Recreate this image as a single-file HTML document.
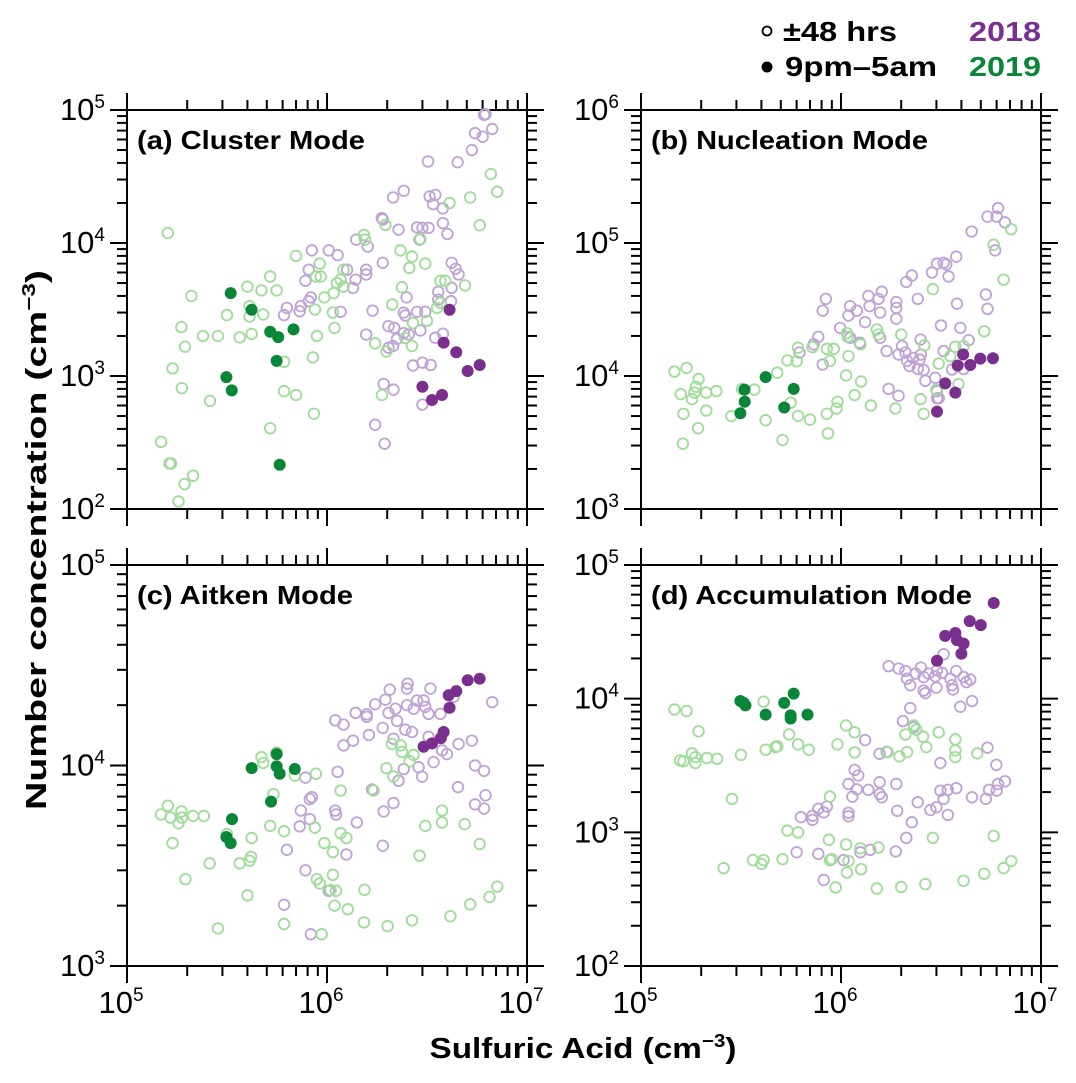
<!DOCTYPE html>
<html><head><meta charset="utf-8"><style>
html,body{margin:0;padding:0;background:#fff;}
svg{display:block;font-family:"Liberation Sans",Arial,sans-serif;}
</style></head><body>
<svg id="chart" width="1076" height="1083" viewBox="0 0 1076 1083" xmlns="http://www.w3.org/2000/svg">
<g id="legend">
<circle cx="767" cy="31" r="4.5" fill="none" stroke="#000" stroke-width="1.8"/>
<text x="783" y="41" font-size="28" font-weight="bold" textLength="114" lengthAdjust="spacingAndGlyphs">±48 hrs</text>
<circle cx="767" cy="67" r="5.5" fill="#000"/>
<text x="785" y="76" font-size="28" font-weight="bold" textLength="152" lengthAdjust="spacingAndGlyphs">9pm–5am</text>
<text x="969" y="41" font-size="28" font-weight="bold" fill="#7a2e8e" textLength="72" lengthAdjust="spacingAndGlyphs">2018</text>
<text x="969" y="76" font-size="28" font-weight="bold" fill="#0a8638" textLength="72" lengthAdjust="spacingAndGlyphs">2019</text>
</g>
<text transform="translate(46,540) rotate(-90)" font-size="29" font-weight="bold" text-anchor="middle" textLength="540" lengthAdjust="spacingAndGlyphs">Number concentration (cm<tspan dy="-11" font-size="18">−3</tspan><tspan dy="11">)</tspan></text>
<text x="583" y="1058" font-size="29" font-weight="bold" text-anchor="middle" textLength="307" lengthAdjust="spacingAndGlyphs">Sulfuric Acid (cm<tspan dy="-11" font-size="18">−3</tspan><tspan dy="11">)</tspan></text>
</svg>
<script>
// ---- shared x axis ----
const xDecades = [5, 6, 7];
// ---- panel (a) Cluster Mode ----
const aYDecades = [2, 3, 4, 5];
const aPurpleOpenX = [6.2e6,6.1e6,5.5e6,6.0e6,6.7e6,5.3e6,4.5e6,3.2e6,2.42e6,2.14e6,3.26e6,3.48e6,3.39e6,3.79e6,1.88e6,1.9e6,2.28e6,2.82e6,3.0e6,3.22e6,3.8e6,4.0e6,2.9e6,1.6e6,1.4e6,1.02e6,8.4e5,1.13e6,1.26e6,1.57e6,1.57e6,1.9e6,1.39e6,1.35e6,7.8e5,8.1e5,8.3e5,8.1e5,7.4e5,7.3e5,6.3e5,6.1e5,1.17e6,1.69e6,4.2e6,4.4e6,4.55e6,4.2e6,3.6e6,3.6e6,4.17e6,2.5e6,2.42e6,2.46e6,2.82e6,3.1e6,2.93e6,2.03e6,2.17e6,2.42e6,2.56e6,2.24e6,2.14e6,2.03e6,1.57e6,3.48e6,3.8e6,2.69e6,3.0e6,3.3e6,1.92e6,2.15e6,3.0e6,1.74e6,1.94e6];
const aPurpleOpenY = [9.3e4,9.2e4,6.7e4,6.3e4,7.2e4,5.0e4,4.05e4,4.1e4,2.47e4,2.2e4,2.24e4,2.3e4,1.96e4,1.82e4,1.54e4,1.5e4,1.26e4,1.31e4,1.3e4,1.3e4,1.41e4,1.17e4,1.06e4,9.4e3,1.06e4,8.8e3,8.8e3,8.1e3,6.3e3,6.3e3,5.8e3,7.1e3,5.3e3,4.6e3,5.2e3,6.3e3,3.9e3,3.65e3,3.35e3,3.07e3,3.25e3,2.87e3,3.04e3,3.1e3,7.1e3,6.4e3,5.8e3,4.6e3,4.3e3,3.75e3,3.65e3,3.9e3,3.0e3,2.85e3,3.04e3,3.04e3,2.2e3,2.37e3,2.3e3,2.1e3,2.05e3,1.9e3,1.68e3,1.63e3,2.05e3,1.94e3,2.08e3,1.2e3,1.26e3,1.21e3,8.7e2,7.9e2,6.1e2,4.3e2,3.1e2];
const aGreenOpenX = [1.6e5,2.1e5,1.87e5,1.95e5,1.69e5,1.88e5,2.6e5,1.48e5,1.63e5,1.66e5,2.14e5,1.94e5,1.81e5,2.4e5,2.85e5,3.66e5,4.2e5,3.16e5,4.0e5,4.7e5,5.2e5,5.6e5,4.1e5,4.1e5,4.8e5,7.0e5,9.2e5,8.8e5,9.3e5,6.1e5,6.1e5,7.0e5,5.2e5,8.6e5,8.5e5,8.9e5,8.7e5,9.7e5,1.07e6,1.09e6,1.08e6,1.12e6,1.17e6,1.21e6,1.53e6,1.55e6,1.96e6,2.33e6,2.66e6,2.58e6,3.1e6,2.37e6,2.12e6,2.69e6,3.16e6,2.46e6,2.66e6,1.74e6,1.98e6,1.88e6,3.55e6,3.69e6,3.69e6,3.9e6,4.1e6,5.2e6,6.6e6,7.1e6,5.8e6,4.9e6,2.93e6,1.21e6];
const aGreenOpenY = [1.19e4,4.0e3,2.33e3,1.66e3,1.14e3,8.1e2,6.5e2,3.2e2,2.2e2,2.2e2,1.78e2,1.54e2,1.14e2,2.0e3,2.0e3,1.95e3,2.07e3,2.87e3,4.7e3,4.4e3,5.6e3,4.4e3,3.35e3,2.8e3,2.9e3,8.0e3,7.0e3,5.6e3,5.6e3,1.28e3,7.7e2,7.2e2,4.05e2,5.2e2,1.38e3,2.0e3,3.16e3,3.9e3,3.0e3,2.3e3,4.2e3,5.0e3,5.3e3,4.7e3,1.15e4,1.06e4,1.37e4,8.8e3,7.9e3,6.5e3,7.0e3,4.65e3,3.45e3,2.5e3,2.6e3,1.93e3,1.68e3,1.76e3,1.53e3,7.2e2,3.25e3,3.55e3,5.2e3,5.2e3,2.0e4,2.2e4,3.3e4,2.43e4,1.36e4,4.8e3,1.07e4,6.3e3];
const aPurpleFilledX = [4.1e6,3.83e6,4.43e6,5.05e6,5.8e6,3.0e6,3.35e6,3.76e6];
const aPurpleFilledY = [3.15e3,1.78e3,1.51e3,1.09e3,1.21e3,8.3e2,6.6e2,7.2e2];
const aGreenFilledX = [3.3e5,4.2e5,5.2e5,5.7e5,6.8e5,5.6e5,3.14e5,3.34e5,5.8e5];
const aGreenFilledY = [4.2e3,3.15e3,2.15e3,1.96e3,2.24e3,1.3e3,9.8e2,7.8e2,2.15e2];
// ---- panel (b) Nucleation Mode ----
const bYDecades = [3, 4, 5, 6];
const bPurpleOpenX = [6.1e6,5.4e6,6.0e6,6.6e6,4.5e6,5.9e6,3.77e6,3.26e6,3.02e6,3.36e6,2.85e6,3.45e6,2.26e6,2.12e6,2.42e6,1.6e6,1.37e6,1.54e6,1.89e6,1.89e6,1.39e6,1.57e6,1.11e6,1.2e6,1.09e6,8.4e5,8.1e5,1.32e6,1.89e6,9.9e5,1.11e6,1.24e6,1.57e6,7.7e5,7.3e5,8.1e5,6.2e5,1.69e6,2.02e6,2.1e6,1.94e6,2.14e6,2.29e6,2.47e6,2.51e6,2.5e6,2.2e6,2.42e6,2.59e6,2.64e6,3.26e6,3.16e6,3.95e6,3.8e6,5.3e6,5.4e6,4.35e6,4.1e6,3.59e6,2.96e6,3.02e6,3.08e6,1.73e6,1.94e6,3.02e6];
const bPurpleOpenY = [1.83e5,1.58e5,1.58e5,1.43e5,1.22e5,8.8e4,7.9e4,7.1e4,7.0e4,6.9e4,6.0e4,5.6e4,5.7e4,5.1e4,3.8e4,4.3e4,4.0e4,3.8e4,3.6e4,3.25e4,3.35e4,3.0e4,3.35e4,3.1e4,2.85e4,3.8e4,3.1e4,2.54e4,2.7e4,2.3e4,1.94e4,1.78e4,1.94e4,1.97e4,1.73e4,1.22e4,1.5e4,1.54e4,1.68e4,1.5e4,1.45e4,1.3e4,1.37e4,1.33e4,1.45e4,1.88e4,1.19e4,1.13e4,1.11e4,9.2e3,1.54e4,2.4e4,2.3e4,3.5e4,4.1e4,3.2e4,1.86e4,1.13e4,1.12e4,9.7e3,7.7e3,6.8e3,8.0e3,7.1e3,6.8e3];
const bGreenOpenX = [1.47e5,1.69e5,1.94e5,1.58e5,1.8e5,1.85e5,1.88e5,2.12e5,2.38e5,1.63e5,2.12e5,1.93e5,1.62e5,2.83e5,3.2e5,3.69e5,4.2e5,4.8e5,5.4e5,6.0e5,6.1e5,5.6e5,6.1e5,5.1e5,7.0e5,7.2e5,8.5e5,9.2e5,8.8e5,8.5e5,8.6e5,9.6e5,9.5e5,1.06e6,1.09e6,1.07e6,1.08e6,1.25e6,1.26e6,1.17e6,1.41e6,1.51e6,1.54e6,2.0e6,1.87e6,2.5e6,2.59e6,2.61e6,2.88e6,3.08e6,3.73e6,3.87e6,4.1e6,5.2e6,5.8e6,6.5e6,7.1e6,3.52e6,3.0e6];
const bGreenOpenY = [1.08e4,1.15e4,9.5e3,7.3e3,6.7e3,7.5e3,8.3e3,7.5e3,7.7e3,5.2e3,5.5e3,4.05e3,3.1e3,5.0e3,8.0e3,7.9e3,4.65e3,1.06e4,1.31e4,1.29e4,1.63e4,6.3e3,5.0e3,3.3e3,4.7e3,1.65e4,1.6e4,1.6e4,1.3e4,5.2e3,3.7e3,6.4e3,5.7e3,1.01e4,1.41e4,2.1e4,1.97e4,1.73e4,9.1e3,7.2e3,6.0e3,2.24e4,2.05e4,2.05e4,5.7e3,6.7e3,5.2e3,1.7e4,4.5e4,1.24e4,1.66e4,8.7e3,1.68e4,2.17e4,9.7e4,5.3e4,1.27e5,1.41e4,7.9e3];
const bPurpleFilledX = [3.02e6,3.32e6,3.73e6,3.83e6,4.08e6,4.43e6,4.97e6,5.75e6];
const bPurpleFilledY = [5.4e3,8.8e3,7.5e3,1.2e4,1.45e4,1.21e4,1.35e4,1.36e4];
const bGreenFilledX = [3.29e5,3.3e5,3.14e5,4.2e5,5.8e5,5.2e5];
const bGreenFilledY = [7.9e3,6.4e3,5.25e3,9.8e3,8.0e3,5.8e3];
// ---- panel (c) Aitken Mode ----
const cYDecades = [3, 4, 5];
const cPurpleOpenX = [2.53e6,2.51e6,2.06e6,3.29e6,1.96e6,1.74e6,1.39e6,1.58e6,1.58e6,2.03e6,2.2e6,2.51e6,2.82e6,3.04e6,3.1e6,2.71e6,3.22e6,3.69e6,6.7e6,4.3e6,1.1e6,1.21e6,1.9e6,2.24e6,2.46e6,2.66e6,3.22e6,1.62e6,1.35e6,1.21e6,2.15e6,4.55e6,5.3e6,3.76e6,3.98e6,3.41e6,5.5e6,6.1e6,2.42e6,2.87e6,2.99e6,2.28e6,1.13e6,7.8e5,4.52e6,6.2e6,5.5e6,6.1e6,1.68e6,2.15e6,1.92e6,8.4e5,8.2e5,7.4e5,1.1e6,1.11e6,8.2e5,7.3e5,1.41e6,1.9e6,1.25e6,6.3e5,7.8e5,1.02e6,6.1e5,8.3e5];
const cPurpleOpenY = [2.56e4,2.42e4,2.39e4,2.42e4,2.13e4,2.02e4,1.83e4,1.8e4,1.75e4,1.83e4,1.92e4,2.0e4,2.11e4,2.11e4,1.96e4,1.92e4,1.81e4,1.81e4,2.07e4,2.2e4,1.68e4,1.6e4,1.54e4,1.67e4,1.51e4,1.47e4,1.39e4,1.42e4,1.33e4,1.26e4,1.36e4,1.28e4,1.33e4,1.19e4,1.14e4,1.04e4,1.0e4,9.4e3,9.6e3,9.8e3,8.8e3,8.4e3,9.3e3,8.7e3,7.8e3,7.1e3,6.4e3,6.1e3,7.6e3,6.5e3,5.9e3,6.95e3,6.8e3,5.96e3,5.96e3,5.7e3,5.4e3,4.97e3,5.2e3,3.98e3,3.6e3,3.8e3,3.0e3,2.37e3,2.02e3,1.44e3];
const cGreenOpenX = [1.6e5,1.48e5,1.65e5,1.81e5,1.87e5,1.88e5,2.14e5,2.42e5,1.69e5,1.96e5,2.59e5,2.85e5,3.16e5,3.66e5,4.1e5,4.17e5,4.2e5,4.0e5,4.7e5,4.8e5,5.6e5,5.4e5,5.2e5,6.1e5,6.1e5,6.9e5,8.8e5,8.7e5,8.9e5,9.2e5,9.4e5,9.7e5,1.07e6,1.07e6,1.04e6,1.11e6,1.09e6,1.17e6,1.17e6,1.25e6,1.27e6,1.54e6,1.53e6,1.71e6,1.98e6,2.11e6,2.15e6,2.34e6,2.37e6,2.59e6,2.71e6,2.01e6,2.66e6,2.9e6,3.1e6,3.76e6,3.76e6,4.14e6,4.88e6,5.2e6,5.8e6,6.5e6,7.1e6];
const cGreenOpenY = [6.3e3,5.7e3,5.5e3,5.15e3,5.9e3,5.5e3,5.6e3,5.6e3,4.1e3,2.71e3,3.25e3,1.54e3,4.55e3,3.25e3,3.35e3,3.5e3,4.35e3,2.25e3,1.1e4,1.03e4,1.16e4,7.2e3,5.0e3,4.7e3,1.62e3,8.9e3,9.1e3,4.9e3,2.71e3,2.58e3,1.44e3,4.1e3,3.7e3,2.85e3,2.39e3,2.37e3,2.0e3,7.5e3,4.6e3,4.35e3,1.92e3,2.4e3,1.65e3,7.5e3,9.7e3,1.28e4,8.8e3,1.26e4,1.17e4,1.05e4,1.13e4,1.58e3,1.69e3,3.55e3,5.0e3,5.96e3,5.2e3,1.77e3,5.1e3,2.03e3,4.06e3,2.21e3,2.49e3];
const cPurpleFilledX = [5.05e6,5.8e6,4.43e6,4.06e6,4.1e6,3.83e6,3.71e6,3.35e6,3.04e6];
const cPurpleFilledY = [2.66e4,2.71e4,2.35e4,2.24e4,1.94e4,1.47e4,1.37e4,1.29e4,1.24e4];
const cGreenFilledX = [5.6e5,4.2e5,5.6e5,5.8e5,6.9e5,5.25e5,3.35e5,3.14e5,3.3e5];
const cGreenFilledY = [1.14e4,9.7e3,9.9e3,9.1e3,9.6e3,6.6e3,5.4e3,4.4e3,4.1e3];
// ---- panel (d) Accumulation Mode ----
const dYDecades = [2, 3, 4, 5];
const dPurpleOpenX = [3.26e6,1.73e6,1.94e6,2.1e6,2.14e6,2.36e6,2.51e6,2.59e6,2.74e6,2.96e6,3.02e6,3.2e6,3.77e6,3.52e6,4.1e6,4.43e6,4.23e6,2.22e6,3.59e6,3.0e6,2.64e6,2.59e6,3.63e6,4.52e6,3.95e6,2.22e6,2.04e6,2.31e6,1.32e6,1.56e6,1.69e6,3.14e6,5.4e6,5.98e6,1.17e6,1.22e6,1.09e6,1.2e6,1.37e6,1.56e6,1.56e6,1.6e6,1.89e6,1.14e6,3.14e6,3.42e6,3.77e6,3.26e6,4.52e6,5.3e6,5.5e6,6.0e6,6.1e6,6.6e6,2.42e6,1.91e6,2.8e6,3.0e6,3.42e6,2.26e6,2.12e6,1.09e6,1.09e6,6.3e5,7.2e5,7.2e5,7.7e5,8.2e5,8.5e5,6.0e5,7.7e5,1.25e6,1.4e6,1.88e6,1.03e6,8.2e5];
const dPurpleOpenY = [2.15e4,1.75e4,1.68e4,1.61e4,1.41e4,1.54e4,1.71e4,1.45e4,1.54e4,1.47e4,1.63e4,1.56e4,1.61e4,1.41e4,1.45e4,1.39e4,1.33e4,1.26e4,1.26e4,1.21e4,1.1e4,1.15e4,1.17e4,9.6e3,8.7e3,8.5e3,6.8e3,6.1e3,4.9e3,3.87e3,4.0e3,3.3e3,4.3e3,3.2e3,2.93e3,2.66e3,2.3e3,2.1e3,2.08e3,2.37e3,1.94e3,1.83e3,2.3e3,1.85e3,2.05e3,2.08e3,2.14e3,1.78e3,1.83e3,1.78e3,2.08e3,2.05e3,2.3e3,2.41e3,1.68e3,1.45e3,1.47e3,1.54e3,1.35e3,1.19e3,9.1e2,1.4e3,1.32e3,1.3e3,1.33e3,1.24e3,1.5e3,1.41e3,1.56e3,7.1e2,6.9e2,7.1e2,7.4e2,7.2e2,6.2e2,4.4e2];
const dGreenOpenX = [1.47e5,1.69e5,1.94e5,1.57e5,1.63e5,1.8e5,1.87e5,1.87e5,2.14e5,2.4e5,2.85e5,2.59e5,3.16e5,4.1e5,4.2e5,4.7e5,4.8e5,5.5e5,6.1e5,6.9e5,3.63e5,4.0e5,4.1e5,5.1e5,5.4e5,6.1e5,8.8e5,8.7e5,8.8e5,9.0e5,9.4e5,9.6e5,1.06e6,1.17e6,1.17e6,1.06e6,1.09e6,1.07e6,1.26e6,1.25e6,1.54e6,1.51e6,1.71e6,1.96e6,2.14e6,2.1e6,2.31e6,2.38e6,2.57e6,2.67e6,3.08e6,3.73e6,3.73e6,3.73e6,4.8e6,2.0e6,2.64e6,2.88e6,4.1e6,5.2e6,5.8e6,6.5e6,7.1e6];
const dGreenOpenY = [8.3e3,8.1e3,5.7e3,3.45e3,3.4e3,3.9e3,3.65e3,3.3e3,3.6e3,3.55e3,1.78e3,5.4e2,3.8e3,9.5e3,4.15e3,4.34e3,4.4e3,5.4e3,4.55e3,4.15e3,6.2e2,5.8e2,6.2e2,6.3e2,1.03e3,1.0e3,1.85e3,8.8e2,6.2e2,6.3e2,3.87e2,4.55e3,6.3e3,5.6e3,3.96e3,8.1e2,6.1e2,5.0e2,5.3e2,7.6e2,7.7e2,3.8e2,3.98e3,3.7e3,3.98e3,5.4e3,6.3e3,5.86e3,5.2e3,4.34e3,5.6e3,4.96e3,4.1e3,3.65e3,3.9e3,3.9e2,4.1e2,9.1e2,4.34e2,4.9e2,9.4e2,5.4e2,6.1e2];
const dPurpleFilledX = [5.8e6,4.4e6,5.0e6,3.32e6,3.73e6,3.8e6,4.1e6,4.0e6,3.02e6];
const dPurpleFilledY = [5.2e4,3.8e4,3.55e4,2.95e4,3.1e4,2.74e4,2.58e4,2.17e4,1.92e4];
const dGreenFilledX = [3.14e5,3.26e5,3.33e5,4.2e5,5.2e5,5.8e5,5.6e5,5.6e5,6.8e5];
const dGreenFilledY = [9.6e3,9.3e3,8.9e3,7.6e3,9.3e3,1.09e4,7.5e3,7.1e3,7.6e3];

const NS = 'http://www.w3.org/2000/svg';
const svg = document.getElementById('chart');
const C = {po:'#bfa2d6', go:'#9edc98', pf:'#7a2e8e', gf:'#0a8638'};

function mk(tag, attrs, parent) {
  const e = document.createElementNS(NS, tag);
  for (const k in attrs) e.setAttribute(k, attrs[k]);
  parent.appendChild(e);
  return e;
}

function panel(key, title, titleLen, x0, y0, w, h, yDec, showX, series) {
  const g = mk('g', {}, svg);
  
  
  const lx0 = xDecades[0], lx1 = xDecades[xDecades.length - 1];
  const ly0 = yDec[0], ly1 = yDec[yDec.length - 1];
  const sx = v => x0 + (Math.log10(v) - lx0) / (lx1 - lx0) * w;
  const sy = v => y0 + h - (Math.log10(v) - ly0) / (ly1 - ly0) * h;
  const ov = 16;
  const lines = [[x0 - ov, y0, x0 + w + ov, y0], [x0 - ov, y0 + h, x0 + w + ov, y0 + h], [x0, y0 - ov, x0, y0 + h + ov], [x0 + w, y0 - ov, x0 + w, y0 + h + ov]];
  lines.forEach(l => {
    const e = mk('line', {x1: l[0], y1: l[1], x2: l[2], y2: l[3], stroke: '#000', 'stroke-width': 2}, g);
    
    
  });
  for (let d = lx0; d <= lx1; d++) {
    for (let m = 1; m <= 9; m++) {
      if (d === lx1 && m > 1) break;
      const px = sx(m * Math.pow(10, d));
      const len = m === 1 ? 17 : 10;
      const t1 = mk('line', {x1: px, y1: y0 + h, x2: px, y2: y0 + h + len, stroke: '#000', 'stroke-width': 2}, g);
      
      
      const t2 = mk('line', {x1: px, y1: y0, x2: px, y2: y0 - len, stroke: '#000', 'stroke-width': 2}, g);
      
      
    }
    if (showX) {
      const t = mk('text', {x: sx(Math.pow(10, d)) - 6, y: y0 + h + 47, 'font-size': 31, 'text-anchor': 'middle'}, g);
      
      
      t.innerHTML = '10<tspan dy="-12" font-size="19">' + d + '</tspan>';
    }
  }
  for (let d = ly0; d <= ly1; d++) {
    for (let m = 1; m <= 9; m++) {
      if (d === ly1 && m > 1) break;
      const py = sy(m * Math.pow(10, d));
      const len = m === 1 ? 17 : 10;
      const t1 = mk('line', {x1: x0, y1: py, x2: x0 - len, y2: py, stroke: '#000', 'stroke-width': 2}, g);
      
      
      const t2 = mk('line', {x1: x0 + w, y1: py, x2: x0 + w + len, y2: py, stroke: '#000', 'stroke-width': 2}, g);
      
      
    }
    const t = mk('text', {x: x0 - 22, y: sy(Math.pow(10, d)) + 10, 'font-size': 31, 'text-anchor': 'end'}, g);
    
    
    t.innerHTML = '10<tspan dy="-12" font-size="19">' + d + '</tspan>';
  }
  const tt = mk('text', {x: x0 + 10, y: y0 + 39, 'font-size': 26, 'font-weight': 'bold', textLength: titleLen, lengthAdjust: 'spacingAndGlyphs'}, g);
  
  
  tt.textContent = title;
  series.forEach(s => {
    const sg = mk('g', {}, g);
    
    
    for (let i = 0; i < s.x.length; i++) {
      const a = s.filled ? {cx: sx(s.x[i]), cy: sy(s.y[i]), r: 6, fill: s.color}
                         : {cx: sx(s.x[i]), cy: sy(s.y[i]), r: 5.3, fill: 'none', stroke: s.color, 'stroke-width': 1.8};
      const c = mk('circle', a, sg);
      
      
    }
  });
}

function ser(px, py, gx, gy, pfx, pfy, gfx, gfy) {
  return [
    {name: 'series-2018-48hrs', x: px, y: py, color: C.po, filled: false},
    {name: 'series-2019-48hrs', x: gx, y: gy, color: C.go, filled: false},
    {name: 'series-2018-night', x: pfx, y: pfy, color: C.pf, filled: true},
    {name: 'series-2019-night', x: gfx, y: gfy, color: C.gf, filled: true}
  ];
}

panel('a', '(a) Cluster Mode', 228, 127, 110, 400, 399, aYDecades, false, ser(aPurpleOpenX, aPurpleOpenY, aGreenOpenX, aGreenOpenY, aPurpleFilledX, aPurpleFilledY, aGreenFilledX, aGreenFilledY));
panel('b', '(b) Nucleation Mode', 277, 641, 110, 400, 399, bYDecades, false, ser(bPurpleOpenX, bPurpleOpenY, bGreenOpenX, bGreenOpenY, bPurpleFilledX, bPurpleFilledY, bGreenFilledX, bGreenFilledY));
panel('c', '(c) Aitken Mode', 216, 127, 565, 400, 401, cYDecades, true, ser(cPurpleOpenX, cPurpleOpenY, cGreenOpenX, cGreenOpenY, cPurpleFilledX, cPurpleFilledY, cGreenFilledX, cGreenFilledY));
panel('d', '(d) Accumulation Mode', 321, 641, 565, 400, 401, dYDecades, true, ser(dPurpleOpenX, dPurpleOpenY, dGreenOpenX, dGreenOpenY, dPurpleFilledX, dPurpleFilledY, dGreenFilledX, dGreenFilledY));
</script>
</body></html>
